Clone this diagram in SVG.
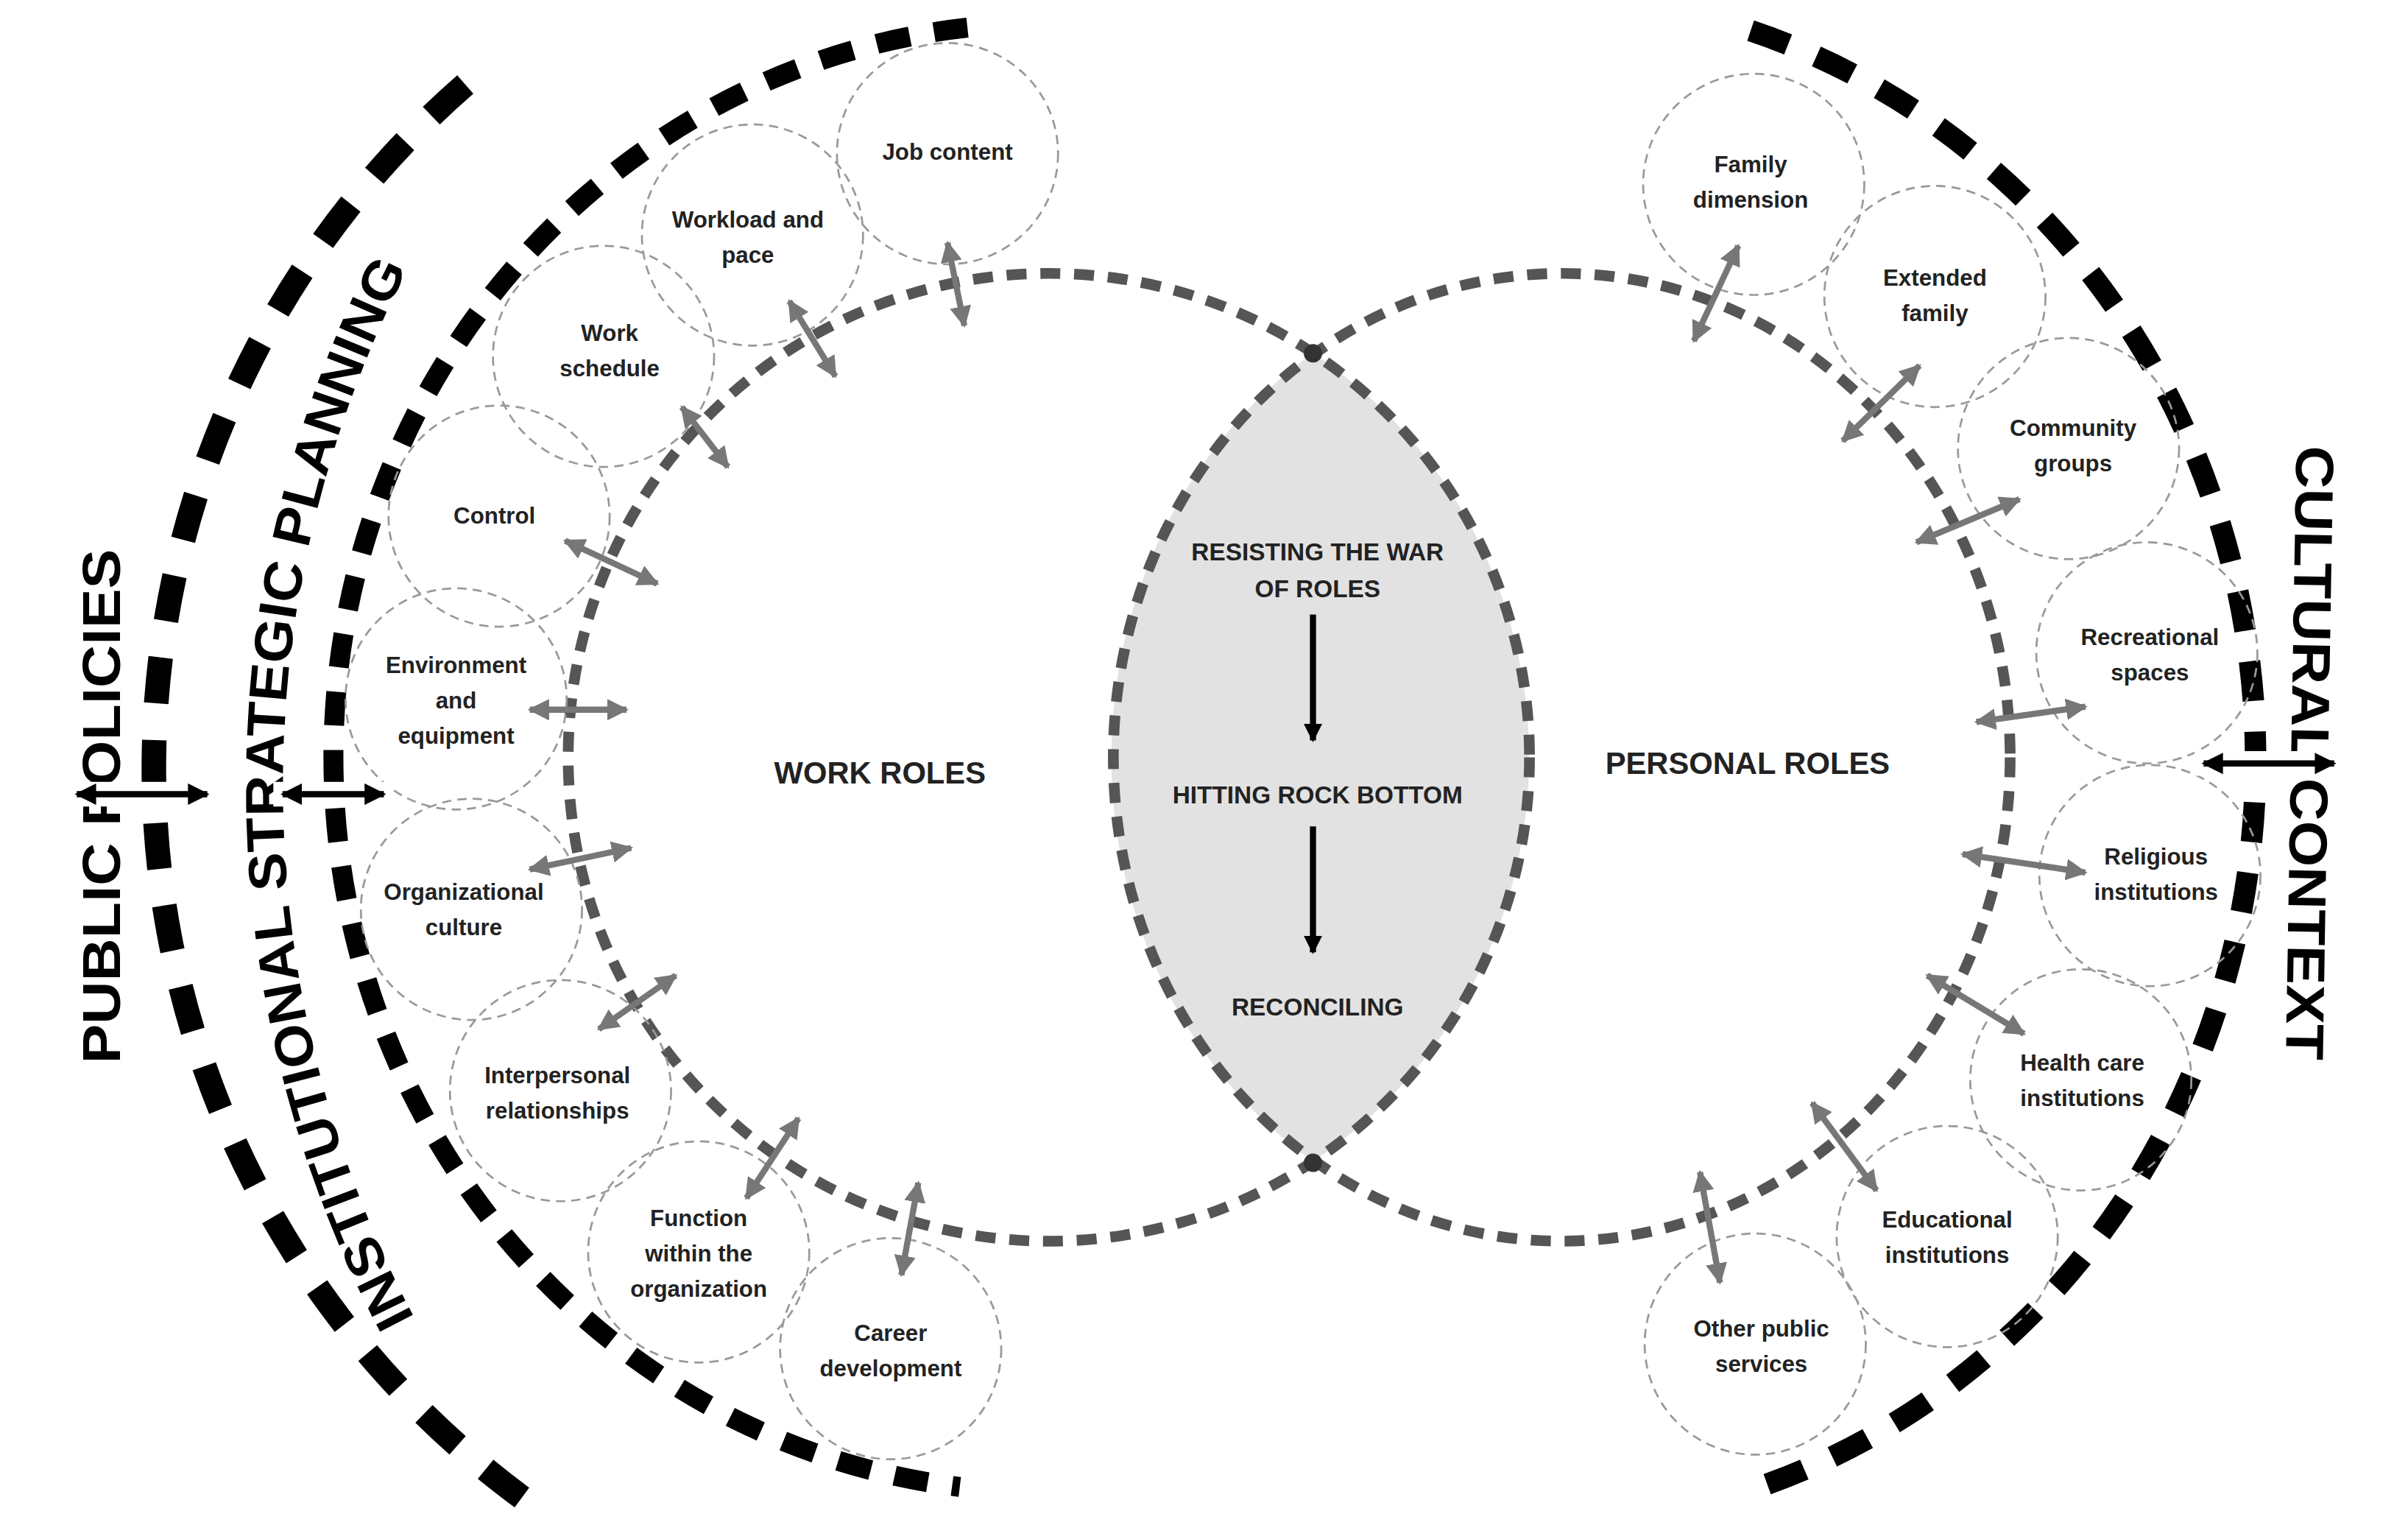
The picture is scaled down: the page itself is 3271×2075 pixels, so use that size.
<svg xmlns="http://www.w3.org/2000/svg" width="3271" height="2075" viewBox="0 0 3271 2075">
<defs>
<marker id="ga" viewBox="0 0 10 10" refX="9" refY="5" markerWidth="3.5" markerHeight="3.5" orient="auto-start-reverse"><path d="M0 0L10 5L0 10z" fill="#777"/></marker>
<marker id="ba" viewBox="0 0 10 10" refX="9" refY="5" markerWidth="3.5" markerHeight="3.5" orient="auto-start-reverse"><path d="M0 0L10 5L0 10z" fill="#000"/></marker>
<marker id="bd" viewBox="0 0 10 10" refX="9" refY="5" markerWidth="3" markerHeight="3" orient="auto"><path d="M0 0L10 5L0 10z" fill="#000"/></marker>
</defs>
<style>
.n{fill:none;stroke:#999;stroke-width:1.3;stroke-dasharray:6 4}
.t{font-family:"Liberation Sans",Arial,sans-serif;font-weight:bold;font-size:15px;fill:#222;text-anchor:middle}
.c{font-family:"Liberation Sans",Arial,sans-serif;font-weight:bold;font-size:16px;fill:#222;text-anchor:middle}
.r{font-family:"Liberation Sans",Arial,sans-serif;font-weight:bold;font-size:20px;fill:#222;text-anchor:middle}
.big{font-family:"Liberation Sans",Arial,sans-serif;font-weight:bold;font-size:35px;fill:#000}
.g{stroke:#777;stroke-width:4;fill:none;marker-start:url(#ga);marker-end:url(#ga)}
.b{stroke:#000;stroke-width:4;fill:none;marker-start:url(#ba);marker-end:url(#ba)}
.w{stroke:#fff;stroke-width:16;fill:none}
</style>
<rect width="3271" height="2075" fill="#fff"/>
<g transform="scale(2.086)">
<g id="frames">
<path d="M855 230 A313 315 0 0 1 855 756 A292 315 0 0 1 855 230Z" fill="#e2e2e2"/>
<ellipse cx="683" cy="493" rx="313" ry="315" fill="none" stroke="#555" stroke-width="7" stroke-dasharray="13 9"/>
<ellipse cx="1017" cy="493" rx="292" ry="315" fill="none" stroke="#555" stroke-width="7" stroke-dasharray="13 9"/>
<circle cx="855" cy="230" r="6" fill="#333"/>
<circle cx="855" cy="757" r="6" fill="#333"/>
<path d="M630 18 A462 478 0 0 0 625 968" fill="none" stroke="#000" stroke-width="13" stroke-dasharray="22 16"/>
<path d="M303 55 A590 590 0 0 0 340 975" fill="none" stroke="#000" stroke-width="16" stroke-dasharray="30 24"/>
<path d="M1140 20 A470 498 0 0 1 1140 970" fill="none" stroke="#000" stroke-width="14" stroke-dasharray="26 20"/>
<path id="isp" d="M270 858 A740 740 0 0 1 279 150" fill="none"/>
</g>
<g id="labels">
<text class="big" transform="translate(78 525) rotate(-90)" text-anchor="middle" textLength="335" lengthAdjust="spacingAndGlyphs">PUBLIC POLICIES</text>
<text class="big"><textPath href="#isp" textLength="710" lengthAdjust="spacingAndGlyphs">INSTITUTIONAL STRATEGIC PLANNING</textPath></text>
<text class="big" transform="translate(1492 490) rotate(91)" text-anchor="middle" textLength="400" lengthAdjust="spacingAndGlyphs">CULTURAL CONTEXT</text>
<text class="r" x="573" y="510">WORK ROLES</text>
<text class="r" x="1138" y="504">PERSONAL ROLES</text>
<text class="c" x="858" y="365">RESISTING THE WAR</text>
<text class="c" x="858" y="389">OF ROLES</text>
<text class="c" x="858" y="523">HITTING ROCK BOTTOM</text>
<text class="c" x="858" y="661">RECONCILING</text>
</g>
<g id="nodes">
<g id="n1"><circle class="n" cx="617" cy="100" r="72"/><text class="t" x="617" y="104">Job content</text></g>
<g id="n2"><circle class="n" cx="490" cy="153" r="72"/><text class="t" x="487" y="148">Workload and</text><text class="t" x="487" y="171">pace</text></g>
<g id="n3"><circle class="n" cx="393" cy="232" r="72"/><text class="t" x="397" y="222">Work</text><text class="t" x="397" y="245">schedule</text></g>
<g id="n4"><circle class="n" cx="325" cy="336" r="72"/><text class="t" x="322" y="341">Control</text></g>
<g id="n5"><circle class="n" cx="297" cy="455" r="72"/><text class="t" x="297" y="438">Environment</text><text class="t" x="297" y="461">and</text><text class="t" x="297" y="484">equipment</text></g>
<g id="n6"><circle class="n" cx="307" cy="592" r="72"/><text class="t" x="302" y="586">Organizational</text><text class="t" x="302" y="609">culture</text></g>
<g id="n7"><circle class="n" cx="365" cy="710" r="72"/><text class="t" x="363" y="705">Interpersonal</text><text class="t" x="363" y="728">relationships</text></g>
<g id="n8"><circle class="n" cx="455" cy="815" r="72"/><text class="t" x="455" y="798">Function</text><text class="t" x="455" y="821">within the</text><text class="t" x="455" y="844">organization</text></g>
<g id="n9"><circle class="n" cx="580" cy="878" r="72"/><text class="t" x="580" y="873">Career</text><text class="t" x="580" y="896">development</text></g>
<g id="p1"><circle class="n" cx="1142" cy="120" r="72"/><text class="t" x="1140" y="112">Family</text><text class="t" x="1140" y="135">dimension</text></g>
<g id="p2"><circle class="n" cx="1260" cy="193" r="72"/><text class="t" x="1260" y="186">Extended</text><text class="t" x="1260" y="209">family</text></g>
<g id="p3"><circle class="n" cx="1347" cy="292" r="72"/><text class="t" x="1350" y="284">Community</text><text class="t" x="1350" y="307">groups</text></g>
<g id="p4"><circle class="n" cx="1398" cy="425" r="72"/><text class="t" x="1400" y="420">Recreational</text><text class="t" x="1400" y="443">spaces</text></g>
<g id="p5"><circle class="n" cx="1400" cy="570" r="72"/><text class="t" x="1404" y="563">Religious</text><text class="t" x="1404" y="586">institutions</text></g>
<g id="p6"><circle class="n" cx="1355" cy="703" r="72"/><text class="t" x="1356" y="697">Health care</text><text class="t" x="1356" y="720">institutions</text></g>
<g id="p7"><circle class="n" cx="1268" cy="805" r="72"/><text class="t" x="1268" y="799">Educational</text><text class="t" x="1268" y="822">institutions</text></g>
<g id="p8"><circle class="n" cx="1143" cy="875" r="72"/><text class="t" x="1147" y="870">Other public</text><text class="t" x="1147" y="893">services</text></g>
</g>
<g id="connectors">
<line class="g" x1="617" y1="158" x2="628" y2="212"/>
<line class="g" x1="514" y1="196" x2="544" y2="245"/>
<line class="g" x1="444" y1="265" x2="474" y2="304"/>
<line class="g" x1="368" y1="352" x2="428" y2="380"/>
<line class="g" x1="345" y1="462" x2="408" y2="462"/>
<line class="g" x1="345" y1="566" x2="411" y2="552"/>
<line class="g" x1="390" y1="670" x2="440" y2="635"/>
<line class="g" x1="486" y1="780" x2="520" y2="728"/>
<line class="g" x1="587" y1="830" x2="598" y2="770"/>
<line class="g" x1="1103" y1="222" x2="1132" y2="160"/>
<line class="g" x1="1200" y1="287" x2="1250" y2="238"/>
<line class="g" x1="1248" y1="353" x2="1315" y2="325"/>
<line class="g" x1="1287" y1="470" x2="1358" y2="460"/>
<line class="g" x1="1278" y1="556" x2="1358" y2="568"/>
<line class="g" x1="1255" y1="635" x2="1318" y2="673"/>
<line class="g" x1="1180" y1="718" x2="1222" y2="775"/>
<line class="g" x1="1107" y1="763" x2="1120" y2="835"/>
<line class="w" x1="44" y1="517" x2="141" y2="517"/>
<line class="w" x1="178" y1="517" x2="256" y2="517"/>
<line class="w" x1="1429" y1="497" x2="1526" y2="497"/>
<line class="b" x1="50" y1="517" x2="135" y2="517"/>
<line class="b" x1="184" y1="517" x2="250" y2="517"/>
<line class="b" x1="1435" y1="497" x2="1520" y2="497"/>
<line stroke="#000" stroke-width="4" x1="855" y1="400" x2="855" y2="482" marker-end="url(#bd)"/>
<line stroke="#000" stroke-width="4" x1="855" y1="538" x2="855" y2="620" marker-end="url(#bd)"/>
</g>
</g>
</svg>
